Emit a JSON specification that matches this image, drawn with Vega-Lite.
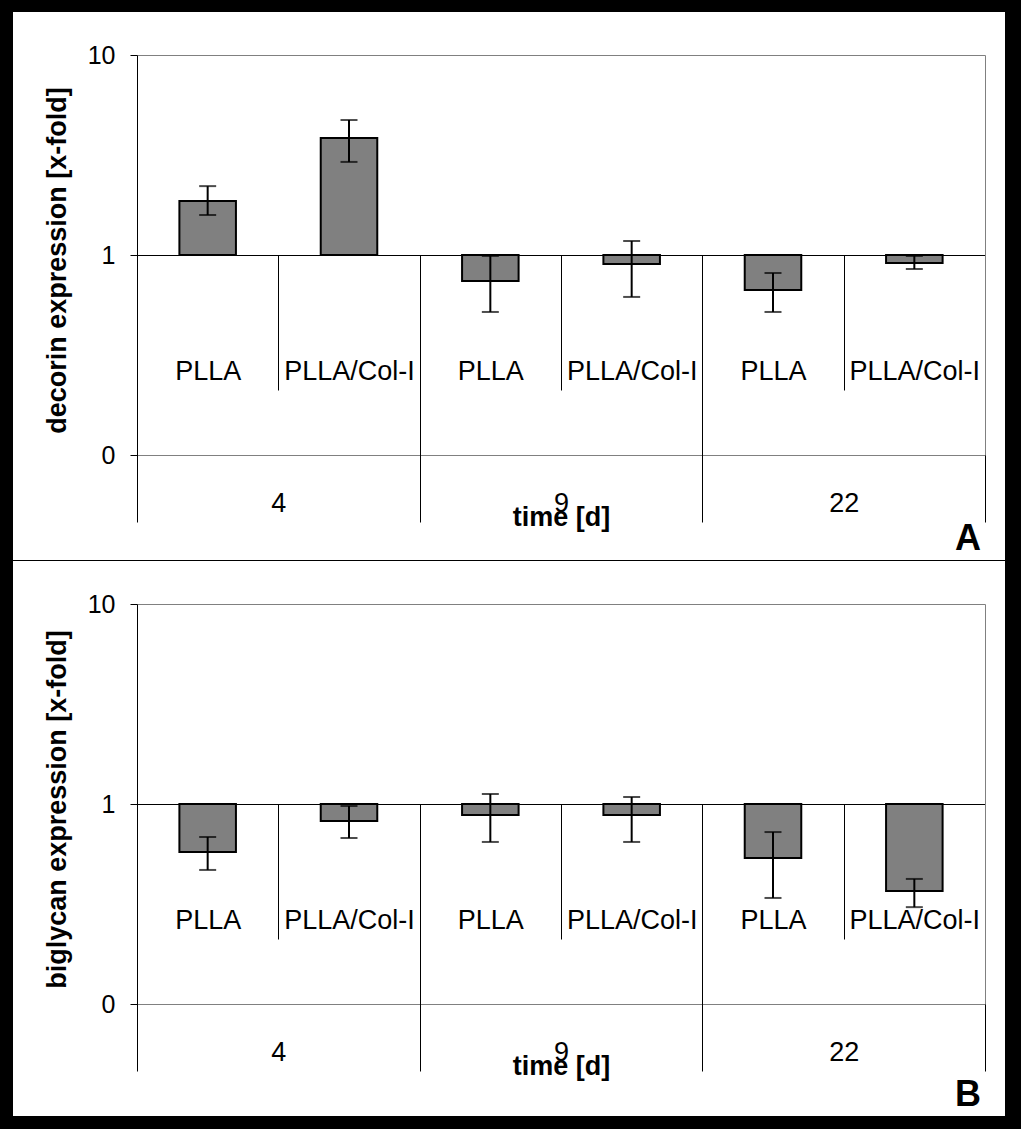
{
  "$schema": "https://vega.github.io/schema/vega-lite/v6.json",
  "background": "black",
  "padding": {"left": 13, "top": 12, "right": 16, "bottom": 13},
  "spacing": 1,
  "config": {
    "view": {"fill": "white", "stroke": null},
    "font": "Liberation Sans",
    "axis": {"grid": false, "labelColor": "black", "titleColor": "black", "labelFont": "Liberation Sans", "titleFont": "Liberation Sans", "labelOverlap": false},
    "title": {"font": "Liberation Sans", "color": "black"}
  },
  "datasets": {
    "decorin": [
      {"cond": "4|PLLA", "day": 4, "material": "PLLA", "value": 1.86, "lo": 1.585, "hi": 2.21},
      {"cond": "4|PLLA/Col-I", "day": 4, "material": "PLLA/Col-I", "value": 3.85, "lo": 2.92, "hi": 4.73},
      {"cond": "9|PLLA", "day": 9, "material": "PLLA", "value": 0.741, "lo": 0.519, "hi": 0.989},
      {"cond": "9|PLLA/Col-I", "day": 9, "material": "PLLA/Col-I", "value": 0.902, "lo": 0.617, "hi": 1.175},
      {"cond": "22|PLLA", "day": 22, "material": "PLLA", "value": 0.668, "lo": 0.519, "hi": 0.813},
      {"cond": "22|PLLA/Col-I", "day": 22, "material": "PLLA/Col-I", "value": 0.912, "lo": 0.851, "hi": 0.989}
    ],
    "biglycan": [
      {"cond": "4|PLLA", "day": 4, "material": "PLLA", "value": 0.575, "lo": 0.468, "hi": 0.684},
      {"cond": "4|PLLA/Col-I", "day": 4, "material": "PLLA/Col-I", "value": 0.822, "lo": 0.676, "hi": 0.977},
      {"cond": "9|PLLA", "day": 9, "material": "PLLA", "value": 0.881, "lo": 0.646, "hi": 1.122},
      {"cond": "9|PLLA/Col-I", "day": 9, "material": "PLLA/Col-I", "value": 0.881, "lo": 0.646, "hi": 1.084},
      {"cond": "22|PLLA", "day": 22, "material": "PLLA", "value": 0.537, "lo": 0.339, "hi": 0.724},
      {"cond": "22|PLLA/Col-I", "day": 22, "material": "PLLA/Col-I", "value": 0.367, "lo": 0.305, "hi": 0.422}
    ]
  },
  "vconcat": [
    {
      "data": {"name": "decorin"},
      "width": 992,
      "height": 548,
      "title": {"text": "A", "orient": "bottom", "anchor": "end", "frame": "group", "offset": -38, "dx": -24, "fontSize": 36, "fontWeight": "bold"},
      "resolve": {"scale": {"x": "independent", "y": "independent"}},
      "layer": [
        {
          "mark": {"type": "bar", "fill": "#808080", "stroke": "black", "strokeWidth": 2, "width": {"band": 0.4}},
          "encoding": {
            "x": {"field": "cond", "type": "nominal",
              "scale": {"type": "band", "domain": ["4|PLLA", "4|PLLA/Col-I", "9|PLLA", "9|PLLA/Col-I", "22|PLLA", "22|PLLA/Col-I"], "range": [124, 972], "paddingInner": 0, "paddingOuter": 0},
              "axis": {"orient": "bottom", "offset": -305, "domainColor": "black", "domainWidth": 1, "tickBand": "extent", "tickSize": 135, "tickColor": "black", "tickWidth": 1, "labelPadding": -32, "labelFontSize": 27, "labelAngle": 0, "labelExpr": "split(datum.label, '|')[1]", "title": null}},
            "y": {"field": "value", "type": "quantitative",
              "scale": {"type": "log", "domain": [0.1, 10], "range": [443, 43]},
              "axis": {"orient": "left", "offset": -124, "values": [0.1, 1, 10], "labelExpr": "datum.value < 0.5 ? '0' : (datum.value < 5 ? '1' : '10')", "domainColor": "black", "tickColor": "black", "tickSize": 7, "labelPadding": 15, "labelFontSize": 25, "title": "decorin expression [x-fold]", "titleFontSize": 27, "titleFontWeight": "bold", "titleX": -80, "titleY": 248, "titleBaseline": "middle", "titleAngle": -90}},
            "y2": {"datum": 1}
          }
        },
        {
          "mark": {"type": "rule", "color": "black", "strokeWidth": 2},
          "encoding": {
            "x": {"field": "cond", "type": "nominal",
              "scale": {"type": "band", "domain": ["4|PLLA", "4|PLLA/Col-I", "9|PLLA", "9|PLLA/Col-I", "22|PLLA", "22|PLLA/Col-I"], "range": [124, 972], "paddingInner": 0, "paddingOuter": 0},
              "axis": {"orient": "top", "offset": -43, "domainColor": "#808080", "domainWidth": 1, "ticks": false, "labels": false, "title": null}},
            "y": {"field": "lo", "type": "quantitative", "scale": {"type": "log", "domain": [0.1, 10], "range": [443, 43]}, "axis": null},
            "y2": {"field": "hi"}
          }
        },
        {
          "mark": {"type": "tick", "color": "black", "thickness": 2, "size": 17},
          "encoding": {
            "x": {"field": "cond", "type": "nominal",
              "scale": {"type": "band", "domain": ["4|PLLA", "4|PLLA/Col-I", "9|PLLA", "9|PLLA/Col-I", "22|PLLA", "22|PLLA/Col-I"], "range": [124, 972], "paddingInner": 0, "paddingOuter": 0},
              "axis": {"orient": "bottom", "offset": -105, "domainColor": "#808080", "domainWidth": 1, "ticks": false, "labels": false, "title": null}},
            "y": {"field": "hi", "type": "quantitative", "scale": {"type": "log", "domain": [0.1, 10], "range": [443, 43]},
              "axis": {"orient": "right", "offset": -20, "domainColor": "#808080", "domainWidth": 1, "ticks": false, "labels": false, "title": null}}
          }
        },
        {
          "mark": {"type": "tick", "color": "black", "thickness": 2, "size": 17},
          "encoding": {
            "x": {"field": "cond", "type": "nominal",
              "scale": {"type": "band", "domain": ["4|PLLA", "4|PLLA/Col-I", "9|PLLA", "9|PLLA/Col-I", "22|PLLA", "22|PLLA/Col-I"], "range": [124, 972], "paddingInner": 0, "paddingOuter": 0},
              "axis": null},
            "y": {"field": "lo", "type": "quantitative", "scale": {"type": "log", "domain": [0.1, 10], "range": [443, 43]}, "axis": null}
          }
        },
        {
          "mark": {"type": "rule", "opacity": 0},
          "encoding": {
            "x": {"field": "day", "type": "ordinal",
              "scale": {"type": "band", "domain": [4, 9, 22], "range": [124, 972], "paddingInner": 0, "paddingOuter": 0},
              "axis": {"orient": "bottom", "offset": -305, "domain": false, "tickBand": "extent", "tickSize": 267, "tickColor": "black", "tickWidth": 1, "labelPadding": -32, "labelFontSize": 27, "labelAngle": 0, "title": "time [d]", "titleFontSize": 27, "titleFontWeight": "bold", "titleY": 249, "titleBaseline": "top"}}
          }
        }
      ]
    },
    {
      "data": {"name": "biglycan"},
      "width": 992,
      "height": 555,
      "title": {"text": "B", "orient": "bottom", "anchor": "end", "frame": "group", "offset": -38, "dx": -24, "fontSize": 36, "fontWeight": "bold"},
      "resolve": {"scale": {"x": "independent", "y": "independent"}},
      "layer": [
        {
          "mark": {"type": "bar", "fill": "#808080", "stroke": "black", "strokeWidth": 2, "width": {"band": 0.4}},
          "encoding": {
            "x": {"field": "cond", "type": "nominal",
              "scale": {"type": "band", "domain": ["4|PLLA", "4|PLLA/Col-I", "9|PLLA", "9|PLLA/Col-I", "22|PLLA", "22|PLLA/Col-I"], "range": [124, 972], "paddingInner": 0, "paddingOuter": 0},
              "axis": {"orient": "bottom", "offset": -312, "domainColor": "black", "domainWidth": 1, "tickBand": "extent", "tickSize": 135, "tickColor": "black", "tickWidth": 1, "labelPadding": -32, "labelFontSize": 27, "labelAngle": 0, "labelExpr": "split(datum.label, '|')[1]", "title": null}},
            "y": {"field": "value", "type": "quantitative",
              "scale": {"type": "log", "domain": [0.1, 10], "range": [443, 43]},
              "axis": {"orient": "left", "offset": -124, "values": [0.1, 1, 10], "labelExpr": "datum.value < 0.5 ? '0' : (datum.value < 5 ? '1' : '10')", "domainColor": "black", "tickColor": "black", "tickSize": 7, "labelPadding": 15, "labelFontSize": 25, "title": "biglycan expression [x-fold]", "titleFontSize": 27, "titleFontWeight": "bold", "titleX": -80, "titleY": 248, "titleBaseline": "middle", "titleAngle": -90}},
            "y2": {"datum": 1}
          }
        },
        {
          "mark": {"type": "rule", "color": "black", "strokeWidth": 2},
          "encoding": {
            "x": {"field": "cond", "type": "nominal",
              "scale": {"type": "band", "domain": ["4|PLLA", "4|PLLA/Col-I", "9|PLLA", "9|PLLA/Col-I", "22|PLLA", "22|PLLA/Col-I"], "range": [124, 972], "paddingInner": 0, "paddingOuter": 0},
              "axis": {"orient": "top", "offset": -43, "domainColor": "#808080", "domainWidth": 1, "ticks": false, "labels": false, "title": null}},
            "y": {"field": "lo", "type": "quantitative", "scale": {"type": "log", "domain": [0.1, 10], "range": [443, 43]}, "axis": null},
            "y2": {"field": "hi"}
          }
        },
        {
          "mark": {"type": "tick", "color": "black", "thickness": 2, "size": 17},
          "encoding": {
            "x": {"field": "cond", "type": "nominal",
              "scale": {"type": "band", "domain": ["4|PLLA", "4|PLLA/Col-I", "9|PLLA", "9|PLLA/Col-I", "22|PLLA", "22|PLLA/Col-I"], "range": [124, 972], "paddingInner": 0, "paddingOuter": 0},
              "axis": {"orient": "bottom", "offset": -112, "domainColor": "#808080", "domainWidth": 1, "ticks": false, "labels": false, "title": null}},
            "y": {"field": "hi", "type": "quantitative", "scale": {"type": "log", "domain": [0.1, 10], "range": [443, 43]},
              "axis": {"orient": "right", "offset": -20, "domainColor": "#808080", "domainWidth": 1, "ticks": false, "labels": false, "title": null}}
          }
        },
        {
          "mark": {"type": "tick", "color": "black", "thickness": 2, "size": 17},
          "encoding": {
            "x": {"field": "cond", "type": "nominal",
              "scale": {"type": "band", "domain": ["4|PLLA", "4|PLLA/Col-I", "9|PLLA", "9|PLLA/Col-I", "22|PLLA", "22|PLLA/Col-I"], "range": [124, 972], "paddingInner": 0, "paddingOuter": 0},
              "axis": null},
            "y": {"field": "lo", "type": "quantitative", "scale": {"type": "log", "domain": [0.1, 10], "range": [443, 43]}, "axis": null}
          }
        },
        {
          "mark": {"type": "rule", "opacity": 0},
          "encoding": {
            "x": {"field": "day", "type": "ordinal",
              "scale": {"type": "band", "domain": [4, 9, 22], "range": [124, 972], "paddingInner": 0, "paddingOuter": 0},
              "axis": {"orient": "bottom", "offset": -312, "domain": false, "tickBand": "extent", "tickSize": 267, "tickColor": "black", "tickWidth": 1, "labelPadding": -32, "labelFontSize": 27, "labelAngle": 0, "title": "time [d]", "titleFontSize": 27, "titleFontWeight": "bold", "titleY": 249, "titleBaseline": "top"}}
          }
        }
      ]
    }
  ]
}
